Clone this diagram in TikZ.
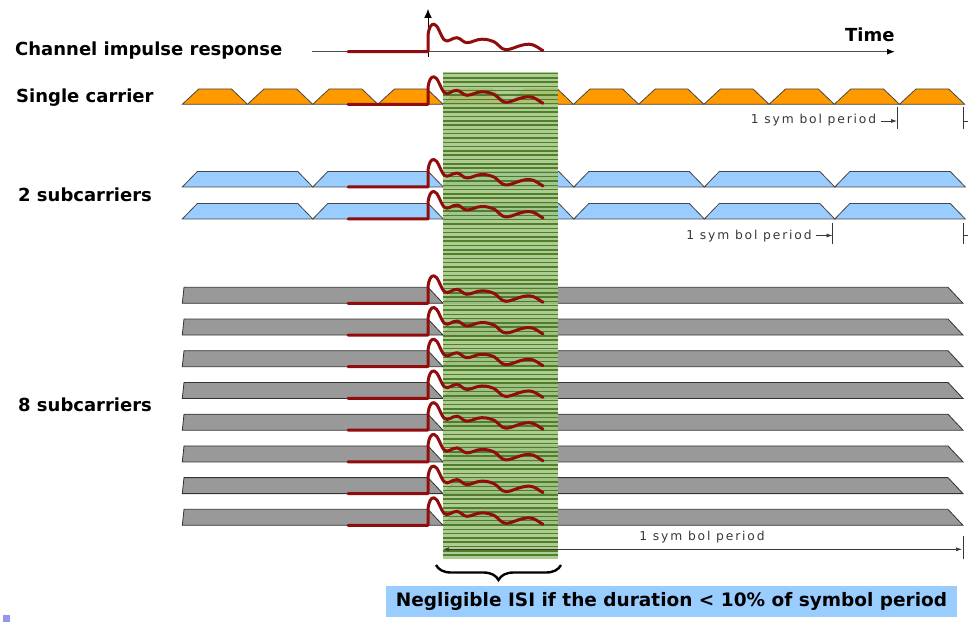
\documentclass[tikz,border=0pt]{standalone}
\usepackage{fontspec}
\setmainfont{DejaVu Sans}
\newfontfamily\dimfont[LetterSpace=15]{DejaVu Sans}
\usetikzlibrary{arrows.meta,decorations.pathreplacing}
\definecolor{wavered}{RGB}{145,12,12}
\definecolor{orangefill}{RGB}{255,153,0}
\definecolor{bluefill}{RGB}{153,204,255}
\definecolor{grayfill}{RGB}{153,153,153}
\definecolor{greenlight}{RGB}{160,198,128}
\definecolor{greendark}{RGB}{72,118,34}
\definecolor{boxblue}{RGB}{153,204,255}
\definecolor{dimgray}{RGB}{55,55,55}
\definecolor{edgegray}{RGB}{70,70,70}
\definecolor{bulletblue}{RGB}{150,150,235}
\tikzset{
  wavestyle/.style={draw=wavered, line width=3pt, line join=round, line cap=round},
  orangebar/.style={fill=orangefill, draw=edgegray, line width=0.8pt},
  bluebar/.style={fill=bluefill, draw=edgegray, line width=0.8pt},
  graybar/.style={fill=grayfill, draw=black!80, line width=0.8pt},
  label/.style={font=\bfseries\fontsize{18}{20}\selectfont, anchor=base west, inner sep=0pt},
  dimtext/.style={font=\dimfont\fontsize{12.3}{14}\selectfont, text=dimgray, inner sep=0pt},
  dimline/.style={draw=dimgray, line width=0.7pt},
  dimarrow/.style={dimline, -{Latex[length=6pt,width=4pt]}},
}
\newcommand\impwave[1]{%
  \begin{scope}[shift={(0,#1)}]
    \draw[wavestyle] (348,0) -- (428,0) -- (428,-17)
      .. controls (429,-24) and (431,-28) .. (434,-27.5)
      .. controls (438,-27) and (440,-17) .. (444,-12)
      .. controls (448,-8) and (452,-14.5) .. (457,-14)
      .. controls (461,-13.5) and (463,-9) .. (467,-9)
      .. controls (472,-9) and (476,-12.5) .. (482,-12.5)
      .. controls (488,-12.5) and (491,-11) .. (494,-10)
      .. controls (498,-8) and (501,-2) .. (506,-2)
      .. controls (512,-2) and (520,-7.5) .. (529,-7.5)
      .. controls (535,-7.5) and (539,-3) .. (543,-1);
  \end{scope}}
\begin{document}
\begin{tikzpicture}[x=1pt,y=-1pt]
\useasboundingbox (0,0) rectangle (970,623);

% labels
\node[label] (lcir) at (15,56) {Channel impulse response};
\node[label] (lsc) at (16,102.5) {Single carrier};
\node[label] (l2) at (18,201) {2 subcarriers};
\node[label] (l8) at (18,411) {8 subcarriers};
\node[label] (ltime) at (845,42) {Time};

% top axis
\coordinate (axs) at (312,51.7);
\coordinate (axe) at (895,51.7);
\draw[draw=black!70, line width=1pt, -{Latex[length=8pt,width=6pt,color=black]}] (axs) -- (axe);
\coordinate (vbot) at (428,57);
\coordinate (vtop) at (428,9);
\draw[black, line width=1pt, -{Latex[length=9pt,width=8pt]}] (vbot) -- (vtop);

% single carrier
\foreach \k in {0,...,11}{
  \pgfmathsetmacro\xa{182.3+65.2*\k}
  \draw[orangebar] (\xa,104.3) -- ({\xa+16.5},89) -- ({\xa+49.2},89) -- ({\xa+65.2},104.3) -- cycle;
}
% 2 subcarriers
\foreach \b/\t in {187/171.5, 219/203.5}{
  \foreach \k in {0,...,5}{
    \pgfmathsetmacro\xa{182.3+130.5*\k}
    \draw[bluebar] (\xa,\b) -- ({\xa+15},\t) -- ({\xa+115.5},\t) -- ({\xa+130.5},\b) -- cycle;
  }
}
% 8 subcarriers
\foreach \k in {0,...,7}{
  \pgfmathsetmacro\t{287.3+31.72*\k}
  \pgfmathsetmacro\b{\t+16}
  \draw[graybar] (182.3,\b) -- (184,\t) -- (428,\t) -- (443,\b) -- cycle;
  \draw[graybar] (443,\b) -- (458,\t) -- (948,\t) -- (963,\b) -- cycle;
}

% green guard region
\fill[greenlight, fill opacity=0.88] (443,72) rectangle (558,559);
\foreach \y in {73.5,77.8,...,558}{
  \draw[greendark, line width=1.5pt, opacity=0.9] (443,\y) -- (558,\y);
}

% impulse responses
\impwave{51.7}
\impwave{104.3}
\impwave{187}
\impwave{219}
\foreach \k in {0,...,7}{
  \pgfmathsetmacro\b{303.3+31.72*\k}
  \impwave{\b}
}

% symbol period dimensions
\node[dimtext] (d1) at (813.5,120.5) {1 sym bol period};
\coordinate (d1a) at (881,121);
\coordinate (d1b) at (897,121);
\draw[dimarrow] (d1a) -- (d1b);
\draw[dimline] (897,107) -- (897,129);
\draw[dimline] (963,107) -- (963,129);
\draw[dimline] (963,121) -- (968,121);

\node[dimtext] (d2) at (749,236) {1 sym bol period};
\coordinate (d2a) at (816,235.5);
\coordinate (d2b) at (832.5,235.5);
\draw[dimarrow] (d2a) -- (d2b);
\draw[dimline] (832.5,223) -- (832.5,244);
\draw[dimline] (963,223) -- (963,244);
\draw[dimline] (963,235.5) -- (968,235.5);

\node[dimtext] (d8) at (702,537.5) {1 sym bol period};
\coordinate (d8a) at (443,549.3);
\coordinate (d8b) at (962,549.3);
\draw[dimline, {Latex[length=6pt,width=4pt]}-{Latex[length=6pt,width=4pt]}] (d8a) -- (d8b);
\draw[dimline] (963,536) -- (963,559);

% brace and note
\coordinate (br) at (561,565);
\coordinate (bl) at (436,565);
\draw[line width=2.4pt, decorate, decoration={brace, amplitude=15pt}] (br) -- (bl);
\node[fill=boxblue, minimum width=571pt, minimum height=31pt, inner sep=0pt,
  font=\bfseries\fontsize{18.5}{20}\selectfont] (note) at (671.5,601.5)
  {Negligible ISI if the duration < 10\% of symbol period};

% bullet
\fill[bulletblue] (3,615) rectangle (10,621.5);
\end{tikzpicture}
\end{document}
